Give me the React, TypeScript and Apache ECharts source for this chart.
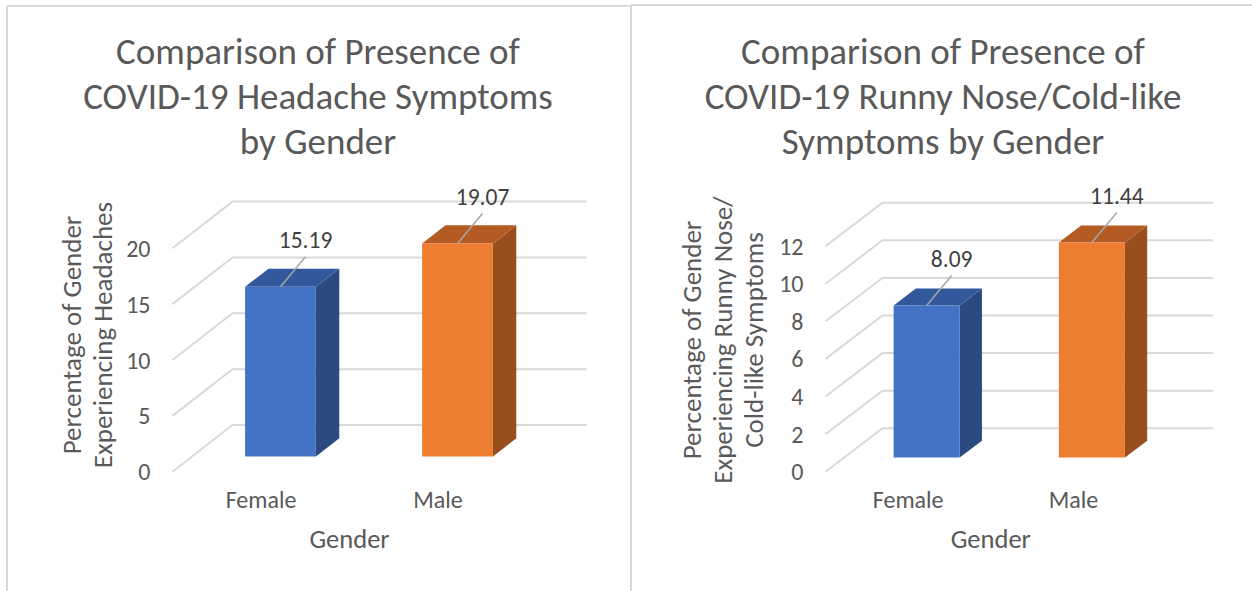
import { useEffect, useRef } from 'react';
import * as echarts from 'echarts';

// ---- data ----
const categories = ['Female', 'Male'];
const headacheValues = [15.19, 19.07];
const runnyNoseValues = [8.09, 11.44];
const headacheTicks = [0, 5, 10, 15, 20];
const runnyNoseTicks = [0, 2, 4, 6, 8, 10, 12];
const headacheTitle = ['Comparison of Presence of', 'COVID-19 Headache Symptoms', 'by Gender'];
const runnyNoseTitle = ['Comparison of Presence of', 'COVID-19 Runny Nose/Cold-like', 'Symptoms by Gender'];
const headacheYName = 'Percentage of Gender\nExperiencing Headaches';
const runnyNoseYName = 'Percentage of Gender\nExperiencing Runny Nose/\nCold-like Symptoms';
const xName = 'Gender';

// ---- styles ----
const FONT = 'Carlito, Calibri, Lato, sans-serif';
const TEXT = '#595959';
const GRIDLINE = '#D9D9D9';
const frontColors = ['#4472C4', '#ED7D31'];
const sideColors = ['#2B4A80', '#984E1E'];
const topColors = ['#31599B', '#B35B22'];
const F0 = 0.325; // depth fraction of bar front face
const FD = 0.39; // bar depth fraction

type Panel = {
  values: number[];
  ticks: number[];
  title: string[];
  yName: string;
  grid: { left: number; top: number; width: number; height: number };
  depth: [number, number];
  titleX: number;
  yNamePos: [number, number];
};

const panels: Panel[] = [
  {
    values: headacheValues,
    ticks: headacheTicks,
    title: headacheTitle,
    yName: headacheYName,
    grid: { left: 172.5, top: 248.3, width: 354, height: 223.4 },
    depth: [60, -46.7],
    titleX: 318,
    yNamePos: [86.5, 335],
  },
  {
    values: runnyNoseValues,
    ticks: runnyNoseTicks,
    title: runnyNoseTitle,
    yName: runnyNoseYName,
    grid: { left: 825.5, top: 246.1, width: 330.5, height: 225.6 },
    depth: [57, -43.4],
    titleX: 943,
    yNamePos: [722.5, 340],
  },
];

function gridRenderer(depth: [number, number]) {
  const [dx, dy] = depth;
  return (params: any, api: any) => {
    const cs = params.coordSys;
    const y = api.coord([0, api.value(1)])[1];
    const x0 = cs.x;
    const x1 = cs.x + cs.width;
    return {
      type: 'polyline',
      silent: true,
      shape: { points: [[x0, y], [x0 + dx, y + dy], [x1 + dx, y + dy]] },
      style: { stroke: GRIDLINE, lineWidth: 2, fill: null },
    };
  };
}

function barRenderer(depth: [number, number]) {
  const [dx, dy] = depth;
  return (params: any, api: any) => {
    const idx = api.value(0);
    const v = api.value(1);
    const base = api.coord([idx, 0]);
    const top = api.coord([idx, v]);
    const band = api.size([1, 0])[0];
    const w = band * 0.4;
    const fx = base[0] + F0 * dx;
    const yb = base[1] + F0 * dy;
    const yt = top[1] + F0 * dy;
    const ddx = FD * dx;
    const ddy = FD * dy;
    const l = fx - w / 2;
    const r = fx + w / 2;
    return {
      type: 'group',
      children: [
        {
          type: 'polygon',
          shape: { points: [[r, yt], [r + ddx, yt + ddy], [r + ddx, yb + ddy], [r, yb]] },
          style: { fill: sideColors[idx] },
        },
        {
          type: 'polygon',
          shape: { points: [[l, yt], [r, yt], [r + ddx, yt + ddy], [l + ddx, yt + ddy]] },
          style: { fill: topColors[idx] },
        },
        {
          type: 'rect',
          shape: { x: l, y: yt, width: w, height: yb - yt },
          style: { fill: frontColors[idx] },
        },
        {
          type: 'line',
          shape: { x1: fx, y1: yt, x2: fx + 25, y2: yt - 30 },
          style: { stroke: '#A6A6A6', lineWidth: 1.5 },
        },
        {
          type: 'text',
          x: fx + 25,
          y: yt - 47,
          style: {
            text: v.toFixed(2),
            align: 'center',
            verticalAlign: 'middle',
            fontSize: 23.5,
            fontFamily: FONT,
            fill: '#404040',
          },
        },
      ],
    };
  };
}

export default function App() {
  const ref = useRef<HTMLDivElement>(null);
  useEffect(() => {
    if (!ref.current) return;
    const chart = echarts.init(ref.current, null, { renderer: 'svg' });

    const grids: any[] = [];
    const xAxes: any[] = [];
    const yAxes: any[] = [];
    const series: any[] = [];
    const graphics: any[] = [];

    panels.forEach((p, i) => {
      grids.push({ ...p.grid, containLabel: false, outerBoundsMode: 'none' });
      xAxes.push({
        type: 'category',
        gridIndex: i,
        data: categories,
        axisLine: { show: false },
        axisTick: { show: false },
        axisLabel: { color: TEXT, fontSize: 24, fontFamily: FONT, margin: 16 },
        name: xName,
        nameLocation: 'middle',
        nameGap: 54,
        nameTextStyle: { color: TEXT, fontSize: 26.5, fontFamily: FONT },
      });
      const interval = p.ticks[1] - p.ticks[0];
      yAxes.push({
        type: 'value',
        gridIndex: i,
        min: p.ticks[0],
        max: p.ticks[p.ticks.length - 1],
        interval,
        axisLine: { show: false },
        axisTick: { show: false },
        splitLine: { show: false },
        axisLabel: { color: TEXT, fontSize: 24, fontFamily: FONT, margin: 22 },
      });
      series.push({
        type: 'custom',
        xAxisIndex: i,
        yAxisIndex: i,
        silent: true,
        renderItem: gridRenderer(p.depth),
        data: p.ticks.map((t) => [0, t]),
        z: 1,
      });
      series.push({
        type: 'custom',
        xAxisIndex: i,
        yAxisIndex: i,
        renderItem: barRenderer(p.depth),
        data: p.values.map((v, k) => [k, v]),
        z: 2,
      });
      p.title.forEach((line, k) => {
        graphics.push({
          type: 'text',
          x: p.titleX,
          y: 51 + k * 45,
          style: {
            text: line,
            textAlign: 'center',
            textVerticalAlign: 'middle',
            fontSize: 37,
            fontFamily: FONT,
            fill: TEXT,
          },
        });
      });
      graphics.push({
        type: 'text',
        x: p.yNamePos[0],
        y: p.yNamePos[1],
        rotation: Math.PI / 2,
        style: {
          text: p.yName,
          textAlign: 'center',
          textVerticalAlign: 'middle',
          fontSize: 27,
          lineHeight: 31,
          fontFamily: FONT,
          fill: TEXT,
        },
      });
    });

    // panel borders
    const border = { stroke: GRIDLINE, lineWidth: 2 };
    graphics.push(
      { type: 'line', shape: { x1: 7, y1: 6, x2: 631, y2: 6 }, style: border },
      { type: 'line', shape: { x1: 7, y1: 6, x2: 7, y2: 600 }, style: border },
      { type: 'line', shape: { x1: 631, y1: 5, x2: 631, y2: 600 }, style: border },
      { type: 'line', shape: { x1: 631, y1: 5, x2: 1260, y2: 5 }, style: border }
    );

    chart.setOption({
      animation: false,
      backgroundColor: '#FFFFFF',
      grid: grids,
      xAxis: xAxes,
      yAxis: yAxes,
      series,
      graphic: graphics,
    });
    return () => chart.dispose();
  }, []);

  return (
    <div
      ref={ref}
      style={{ position: 'fixed', left: 0, top: 0, width: 1252, height: 591, background: '#fff' }}
    />
  );
}
